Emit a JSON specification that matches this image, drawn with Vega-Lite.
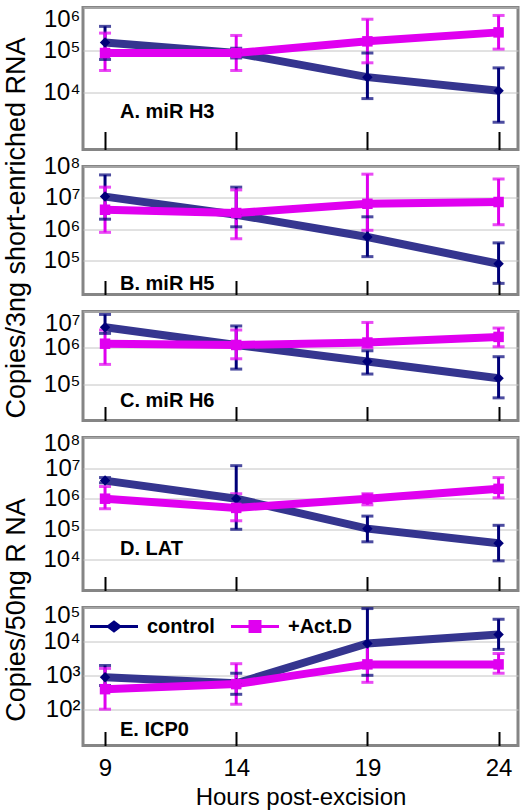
{
  "$schema": "https://vega.github.io/schema/vega-lite/v6.json",
  "background": "white",
  "padding": {"left": 0, "top": 5.5, "right": 2, "bottom": 2},
  "config": {
    "font": "Liberation Sans",
    "view": {"stroke": "#858585", "strokeWidth": 3},
    "axisY": {"labelFontSize": 24, "labelColor": "black", "tickSize": 0, "domain": false, "gridColor": "#c4c4c4", "gridWidth": 1, "labelPadding": 3, "labelOverlap": false, "titleFontSize": 27, "titleFontWeight": "normal", "titleColor": "black"},
    "axisX": {"tickColor": "black", "tickWidth": 2, "domain": false, "grid": false, "labelFontSize": 24, "labelColor": "black", "titleFontSize": 24, "titleFontWeight": "normal", "titleColor": "black"},
    "title": {"anchor": "start", "frame": "group", "orient": "top", "offset": 0, "baseline": "middle", "fontSize": 20, "fontWeight": "bold", "color": "black", "dx": 37}
  },
  "datasets": {
    "d": [
      {"panel": "A", "series": "control", "hour": 9, "value": 150000, "lo": 60000, "hi": 360000},
      {"panel": "A", "series": "control", "hour": 14, "value": 85000, "lo": 65000, "hi": 110000},
      {"panel": "A", "series": "control", "hour": 19, "value": 23000, "lo": 7200, "hi": 85000},
      {"panel": "A", "series": "control", "hour": 24, "value": 11000, "lo": 2000, "hi": 38000},
      {"panel": "A", "series": "+Act.D", "hour": 9, "value": 85000, "lo": 33000, "hi": 250000},
      {"panel": "A", "series": "+Act.D", "hour": 14, "value": 85000, "lo": 33000, "hi": 220000},
      {"panel": "A", "series": "+Act.D", "hour": 19, "value": 160000, "lo": 50000, "hi": 530000},
      {"panel": "A", "series": "+Act.D", "hour": 24, "value": 260000, "lo": 105000, "hi": 650000},
      {"panel": "B", "series": "control", "hour": 9, "value": 11000000, "lo": 2100000, "hi": 54000000},
      {"panel": "B", "series": "control", "hour": 14, "value": 2900000, "lo": 1200000, "hi": 22000000},
      {"panel": "B", "series": "control", "hour": 19, "value": 570000, "lo": 135000, "hi": 2500000},
      {"panel": "B", "series": "control", "hour": 24, "value": 80000, "lo": 19000, "hi": 370000},
      {"panel": "B", "series": "+Act.D", "hour": 9, "value": 4200000, "lo": 800000, "hi": 22000000},
      {"panel": "B", "series": "+Act.D", "hour": 14, "value": 3300000, "lo": 500000, "hi": 18000000},
      {"panel": "B", "series": "+Act.D", "hour": 19, "value": 6500000, "lo": 930000, "hi": 57000000},
      {"panel": "B", "series": "+Act.D", "hour": 24, "value": 7400000, "lo": 1400000, "hi": 40000000},
      {"panel": "C", "series": "control", "hour": 9, "value": 3700000, "lo": 2500000, "hi": 8300000},
      {"panel": "C", "series": "control", "hour": 14, "value": 1200000, "lo": 260000, "hi": 4000000},
      {"panel": "C", "series": "control", "hour": 19, "value": 420000, "lo": 190000, "hi": 830000},
      {"panel": "C", "series": "control", "hour": 24, "value": 145000, "lo": 42000, "hi": 570000},
      {"panel": "C", "series": "+Act.D", "hour": 9, "value": 1300000, "lo": 350000, "hi": 3100000},
      {"panel": "C", "series": "+Act.D", "hour": 14, "value": 1200000, "lo": 500000, "hi": 3100000},
      {"panel": "C", "series": "+Act.D", "hour": 19, "value": 1400000, "lo": 1000000, "hi": 5000000},
      {"panel": "C", "series": "+Act.D", "hour": 24, "value": 2000000, "lo": 1070000, "hi": 3500000},
      {"panel": "D", "series": "control", "hour": 9, "value": 3900000, "lo": 3300000, "hi": 4900000},
      {"panel": "D", "series": "control", "hour": 14, "value": 1000000, "lo": 100000, "hi": 12000000},
      {"panel": "D", "series": "control", "hour": 19, "value": 105000, "lo": 39000, "hi": 270000},
      {"panel": "D", "series": "control", "hour": 24, "value": 35000, "lo": 9300, "hi": 135000},
      {"panel": "D", "series": "+Act.D", "hour": 9, "value": 1000000, "lo": 470000, "hi": 2500000},
      {"panel": "D", "series": "+Act.D", "hour": 14, "value": 500000, "lo": 190000, "hi": 1450000},
      {"panel": "D", "series": "+Act.D", "hour": 19, "value": 1000000, "lo": 630000, "hi": 1450000},
      {"panel": "D", "series": "+Act.D", "hour": 24, "value": 2100000, "lo": 1070000, "hi": 4900000},
      {"panel": "E", "series": "control", "hour": 9, "value": 870, "lo": 500, "hi": 1950},
      {"panel": "E", "series": "control", "hour": 14, "value": 580, "lo": 275, "hi": 1150},
      {"panel": "E", "series": "control", "hour": 19, "value": 8700, "lo": 1000, "hi": 93000},
      {"panel": "E", "series": "control", "hour": 24, "value": 16000, "lo": 5800, "hi": 45000},
      {"panel": "E", "series": "+Act.D", "hour": 9, "value": 390, "lo": 100, "hi": 1600},
      {"panel": "E", "series": "+Act.D", "hour": 14, "value": 550, "lo": 140, "hi": 2200},
      {"panel": "E", "series": "+Act.D", "hour": 19, "value": 2100, "lo": 620, "hi": 8200},
      {"panel": "E", "series": "+Act.D", "hour": 24, "value": 2100, "lo": 1150, "hi": 4400}
    ]
  },
  "spacing": 17,
  "bounds": "flush",
  "resolve": {"scale": {"color": "independent", "stroke": "independent", "fill": "independent", "shape": "independent"}, "legend": {"color": "independent", "stroke": "independent", "fill": "independent", "shape": "independent"}},
  "vconcat": [
    {
      "width": 435, "height": 142,
      "data": {"name": "d"},
      "transform": [{"filter": "datum.panel == 'A'"}],
      "title": {"text": "A. miR H3", "dy": 119},
      "encoding": {
        "x": {"field": "hour", "type": "quantitative", "scale": {"domain": [8.16, 24.74], "nice": false, "zero": false}, "axis": {"values": [9, 14, 19, 24], "labels": false, "tickSize": -18, "title": null}},
        "y": {"field": "value", "type": "quantitative", "title": "Copies/3ng short-enriched RNA", "scale": {"type": "log", "domain": [457, 1000000], "nice": false}, "axis": {"values": [10000, 100000, 1000000], "titleX": -53, "titleY": 220, "titleAngle": 270, "titleBaseline": "bottom", "titleAlign": "center", "labelBaseline": {"condition": {"test": "datum.value > 900000", "value": "top"}, "value": "middle"}, "labelExpr": "datum.value > 5e7 ? '10⁸' : datum.value > 5e6 ? '10⁷' : datum.value > 5e5 ? '10⁶' : datum.value > 5e4 ? '10⁵' : datum.value > 5e3 ? '10⁴' : datum.value > 500 ? '10³' : '10²'"}}
      },
      "layer": [
        {"mark": {"type": "rule", "strokeWidth": 3}, "encoding": {"y": {"field": "lo", "type": "quantitative", "title": "Copies/3ng short-enriched RNA"}, "y2": {"field": "hi"}, "color": {"field": "series", "type": "nominal", "scale": {"domain": ["control", "+Act.D"], "range": ["#000078", "#e000f0"]}, "legend": null}}},
        {"mark": {"type": "tick", "orient": "horizontal", "size": 12, "thickness": 3}, "encoding": {"y": {"field": "lo", "type": "quantitative", "title": "Copies/3ng short-enriched RNA"}, "color": {"field": "series", "type": "nominal", "legend": null}}},
        {"mark": {"type": "tick", "orient": "horizontal", "size": 12, "thickness": 3}, "encoding": {"y": {"field": "hi", "type": "quantitative", "title": "Copies/3ng short-enriched RNA"}, "color": {"field": "series", "type": "nominal", "legend": null}}},
        {"mark": {"type": "line", "strokeWidth": 8}, "encoding": {"stroke": {"field": "series", "type": "nominal", "scale": {"domain": ["control", "+Act.D"], "range": ["#35358f", "#e000f0"]}, "legend": null}}},
        {"transform": [{"filter": "datum.series == 'control'"}], "mark": {"type": "point", "shape": "diamond", "filled": true, "size": 110, "color": "#000078", "opacity": 1}},
        {"transform": [{"filter": "datum.series == '+Act.D'"}], "mark": {"type": "point", "shape": "square", "filled": true, "size": 110, "color": "#e000f0", "opacity": 1}}
      ]
    },
    {
      "width": 435, "height": 128,
      "data": {"name": "d"},
      "transform": [{"filter": "datum.panel == 'B'"}],
      "title": {"text": "B. miR H5", "dy": 143},
      "encoding": {
        "x": {"field": "hour", "type": "quantitative", "scale": {"domain": [8.16, 24.74], "nice": false, "zero": false}, "axis": {"values": [9, 14, 19, 24], "labels": false, "tickSize": -14, "title": null}},
        "y": {"field": "value", "type": "quantitative", "title": null, "scale": {"type": "log", "domain": [8400, 100000000], "nice": false}, "axis": {"values": [100000, 1000000, 10000000, 100000000], "labelExpr": "datum.value > 5e7 ? '10⁸' : datum.value > 5e6 ? '10⁷' : datum.value > 5e5 ? '10⁶' : datum.value > 5e4 ? '10⁵' : datum.value > 5e3 ? '10⁴' : datum.value > 500 ? '10³' : '10²'"}}
      },
      "layer": [
        {"mark": {"type": "rule", "strokeWidth": 3}, "encoding": {"y": {"field": "lo", "type": "quantitative", "title": null}, "y2": {"field": "hi"}, "color": {"field": "series", "type": "nominal", "scale": {"domain": ["control", "+Act.D"], "range": ["#000078", "#e000f0"]}, "legend": null}}},
        {"mark": {"type": "tick", "orient": "horizontal", "size": 12, "thickness": 3}, "encoding": {"y": {"field": "lo", "type": "quantitative", "title": null}, "color": {"field": "series", "type": "nominal", "legend": null}}},
        {"mark": {"type": "tick", "orient": "horizontal", "size": 12, "thickness": 3}, "encoding": {"y": {"field": "hi", "type": "quantitative", "title": null}, "color": {"field": "series", "type": "nominal", "legend": null}}},
        {"mark": {"type": "line", "strokeWidth": 8}, "encoding": {"stroke": {"field": "series", "type": "nominal", "scale": {"domain": ["control", "+Act.D"], "range": ["#35358f", "#e000f0"]}, "legend": null}}},
        {"transform": [{"filter": "datum.series == 'control'"}], "mark": {"type": "point", "shape": "diamond", "filled": true, "size": 110, "color": "#000078", "opacity": 1}},
        {"transform": [{"filter": "datum.series == '+Act.D'"}], "mark": {"type": "point", "shape": "square", "filled": true, "size": 110, "color": "#e000f0", "opacity": 1}}
      ]
    },
    {
      "width": 435, "height": 109,
      "data": {"name": "d"},
      "transform": [{"filter": "datum.panel == 'C'"}],
      "title": {"text": "C. miR H6", "dy": 104},
      "encoding": {
        "x": {"field": "hour", "type": "quantitative", "scale": {"domain": [8.16, 24.74], "nice": false, "zero": false}, "axis": {"values": [9, 14, 19, 24], "labels": false, "tickSize": -14, "title": null}},
        "y": {"field": "value", "type": "quantitative", "title": null, "scale": {"type": "log", "domain": [10000, 10000000], "nice": false}, "axis": {"values": [100000, 1000000, 10000000], "labelBaseline": {"condition": {"test": "datum.value > 9000000", "value": "top"}, "value": "middle"}, "labelExpr": "datum.value > 5e7 ? '10⁸' : datum.value > 5e6 ? '10⁷' : datum.value > 5e5 ? '10⁶' : datum.value > 5e4 ? '10⁵' : datum.value > 5e3 ? '10⁴' : datum.value > 500 ? '10³' : '10²'"}}
      },
      "layer": [
        {"mark": {"type": "rule", "strokeWidth": 3}, "encoding": {"y": {"field": "lo", "type": "quantitative", "title": null}, "y2": {"field": "hi"}, "color": {"field": "series", "type": "nominal", "scale": {"domain": ["control", "+Act.D"], "range": ["#000078", "#e000f0"]}, "legend": null}}},
        {"mark": {"type": "tick", "orient": "horizontal", "size": 12, "thickness": 3}, "encoding": {"y": {"field": "lo", "type": "quantitative", "title": null}, "color": {"field": "series", "type": "nominal", "legend": null}}},
        {"mark": {"type": "tick", "orient": "horizontal", "size": 12, "thickness": 3}, "encoding": {"y": {"field": "hi", "type": "quantitative", "title": null}, "color": {"field": "series", "type": "nominal", "legend": null}}},
        {"mark": {"type": "line", "strokeWidth": 8}, "encoding": {"stroke": {"field": "series", "type": "nominal", "scale": {"domain": ["control", "+Act.D"], "range": ["#35358f", "#e000f0"]}, "legend": null}}},
        {"transform": [{"filter": "datum.series == 'control'"}], "mark": {"type": "point", "shape": "diamond", "filled": true, "size": 110, "color": "#000078", "opacity": 1}},
        {"transform": [{"filter": "datum.series == '+Act.D'"}], "mark": {"type": "point", "shape": "square", "filled": true, "size": 110, "color": "#e000f0", "opacity": 1}}
      ]
    },
    {
      "width": 435, "height": 153,
      "data": {"name": "d"},
      "transform": [{"filter": "datum.panel == 'D'"}],
      "title": {"text": "D. LAT", "dy": 131},
      "encoding": {
        "x": {"field": "hour", "type": "quantitative", "scale": {"domain": [8.16, 24.74], "nice": false, "zero": false}, "axis": {"values": [9, 14, 19, 24], "labels": false, "tickSize": -14, "title": null}},
        "y": {"field": "value", "type": "quantitative", "title": "Copies/50ng R NA", "scale": {"type": "log", "domain": [1000, 100000000], "nice": false}, "axis": {"values": [10000, 100000, 1000000, 10000000, 100000000], "titleX": -53, "titleY": 172, "titleAngle": 270, "titleBaseline": "bottom", "titleAlign": "center", "labelBaseline": "middle", "labelOffset": {"condition": {"test": "datum.value > 90000000", "value": 6}, "value": 0}, "labelExpr": "datum.value > 5e7 ? '10⁸' : datum.value > 5e6 ? '10⁷' : datum.value > 5e5 ? '10⁶' : datum.value > 5e4 ? '10⁵' : datum.value > 5e3 ? '10⁴' : datum.value > 500 ? '10³' : '10²'"}}
      },
      "layer": [
        {"mark": {"type": "rule", "strokeWidth": 3}, "encoding": {"y": {"field": "lo", "type": "quantitative", "title": "Copies/50ng R NA"}, "y2": {"field": "hi"}, "color": {"field": "series", "type": "nominal", "scale": {"domain": ["control", "+Act.D"], "range": ["#000078", "#e000f0"]}, "legend": null}}},
        {"mark": {"type": "tick", "orient": "horizontal", "size": 12, "thickness": 3}, "encoding": {"y": {"field": "lo", "type": "quantitative", "title": "Copies/50ng R NA"}, "color": {"field": "series", "type": "nominal", "legend": null}}},
        {"mark": {"type": "tick", "orient": "horizontal", "size": 12, "thickness": 3}, "encoding": {"y": {"field": "hi", "type": "quantitative", "title": "Copies/50ng R NA"}, "color": {"field": "series", "type": "nominal", "legend": null}}},
        {"mark": {"type": "line", "strokeWidth": 8}, "encoding": {"stroke": {"field": "series", "type": "nominal", "scale": {"domain": ["control", "+Act.D"], "range": ["#35358f", "#e000f0"]}, "legend": null}}},
        {"transform": [{"filter": "datum.series == 'control'"}], "mark": {"type": "point", "shape": "diamond", "filled": true, "size": 110, "color": "#000078", "opacity": 1}},
        {"transform": [{"filter": "datum.series == '+Act.D'"}], "mark": {"type": "point", "shape": "square", "filled": true, "size": 110, "color": "#e000f0", "opacity": 1}}
      ]
    },
    {
      "width": 435, "height": 138,
      "data": {"name": "d"},
      "transform": [{"filter": "datum.panel == 'E'"}],
      "title": {"text": "E. ICP0", "dy": 141},
      "encoding": {
        "x": {"field": "hour", "type": "quantitative", "scale": {"domain": [8.16, 24.74], "nice": false, "zero": false}, "axis": {"values": [9, 14, 19, 24], "labels": true, "tickSize": -14, "labelPadding": 24.5, "title": "Hours post-excision", "titlePadding": 5}},
        "y": {"field": "value", "type": "quantitative", "title": null, "scale": {"type": "log", "domain": [8.5, 100000], "nice": false}, "axis": {"values": [100, 1000, 10000, 100000], "labelBaseline": "middle", "labelOffset": {"condition": {"test": "datum.value > 90000", "value": 8}, "value": 0}, "labelExpr": "datum.value > 5e7 ? '10⁸' : datum.value > 5e6 ? '10⁷' : datum.value > 5e5 ? '10⁶' : datum.value > 5e4 ? '10⁵' : datum.value > 5e3 ? '10⁴' : datum.value > 500 ? '10³' : '10²'"}}
      },
      "layer": [
        {"mark": {"type": "rule", "strokeWidth": 3}, "encoding": {"y": {"field": "lo", "type": "quantitative", "title": null}, "y2": {"field": "hi"}, "color": {"field": "series", "type": "nominal", "scale": {"domain": ["+Act.D", "control"], "range": ["#e000f0", "#000078"]}, "legend": null}}},
        {"mark": {"type": "tick", "orient": "horizontal", "size": 12, "thickness": 3}, "encoding": {"y": {"field": "lo", "type": "quantitative", "title": null}, "color": {"field": "series", "type": "nominal", "legend": null}}},
        {"mark": {"type": "tick", "orient": "horizontal", "size": 12, "thickness": 3}, "encoding": {"y": {"field": "hi", "type": "quantitative", "title": null}, "color": {"field": "series", "type": "nominal", "legend": null}}},
        {"mark": {"type": "line", "strokeWidth": 8}, "encoding": {"stroke": {"field": "series", "type": "nominal", "scale": {"domain": ["+Act.D", "control"], "range": ["#e000f0", "#35358f"]}, "legend": null}}},
        {"transform": [{"filter": "datum.series == 'control'"}], "mark": {"type": "point", "shape": "diamond", "filled": true, "size": 110, "color": "#000078", "opacity": 1}},
        {"transform": [{"filter": "datum.series == '+Act.D'"}], "mark": {"type": "point", "shape": "square", "filled": true, "size": 110, "color": "#e000f0", "opacity": 1}},
        {"mark": {"type": "point", "filled": true, "opacity": 0}, "encoding": {
          "fill": {"field": "series", "type": "nominal", "title": null, "scale": {"domain": ["control", "+Act.D"], "range": ["#000080", "#e000f0"]},
            "legend": {"title": null, "orient": "none", "legendX": 7, "legendY": -5, "direction": "horizontal", "symbolSize": 2304, "symbolOpacity": 1, "symbolStrokeWidth": 0, "labelFontSize": 20, "labelFontWeight": "bold", "labelColor": "black", "labelOffset": 9, "columnPadding": 16, "padding": 0}},
          "shape": {"field": "series", "type": "nominal", "title": null, "scale": {"domain": ["control", "+Act.D"], "range": ["M-1,-0.06H-0.26L0,-0.26L0.26,-0.06H1V0.06H0.26L0,0.26L-0.26,0.06H-1Z", "M-1,-0.06H-0.27V-0.27H0.27V-0.06H1V0.06H0.27V0.27H-0.27V0.06H-1Z"]},
            "legend": {"title": null, "orient": "none", "legendX": 7, "legendY": -5, "direction": "horizontal", "symbolSize": 2304, "symbolOpacity": 1, "symbolStrokeWidth": 0, "labelFontSize": 20, "labelFontWeight": "bold", "labelColor": "black", "labelOffset": 9, "columnPadding": 16, "padding": 0}}
        }}
      ]
    }
  ]
}
